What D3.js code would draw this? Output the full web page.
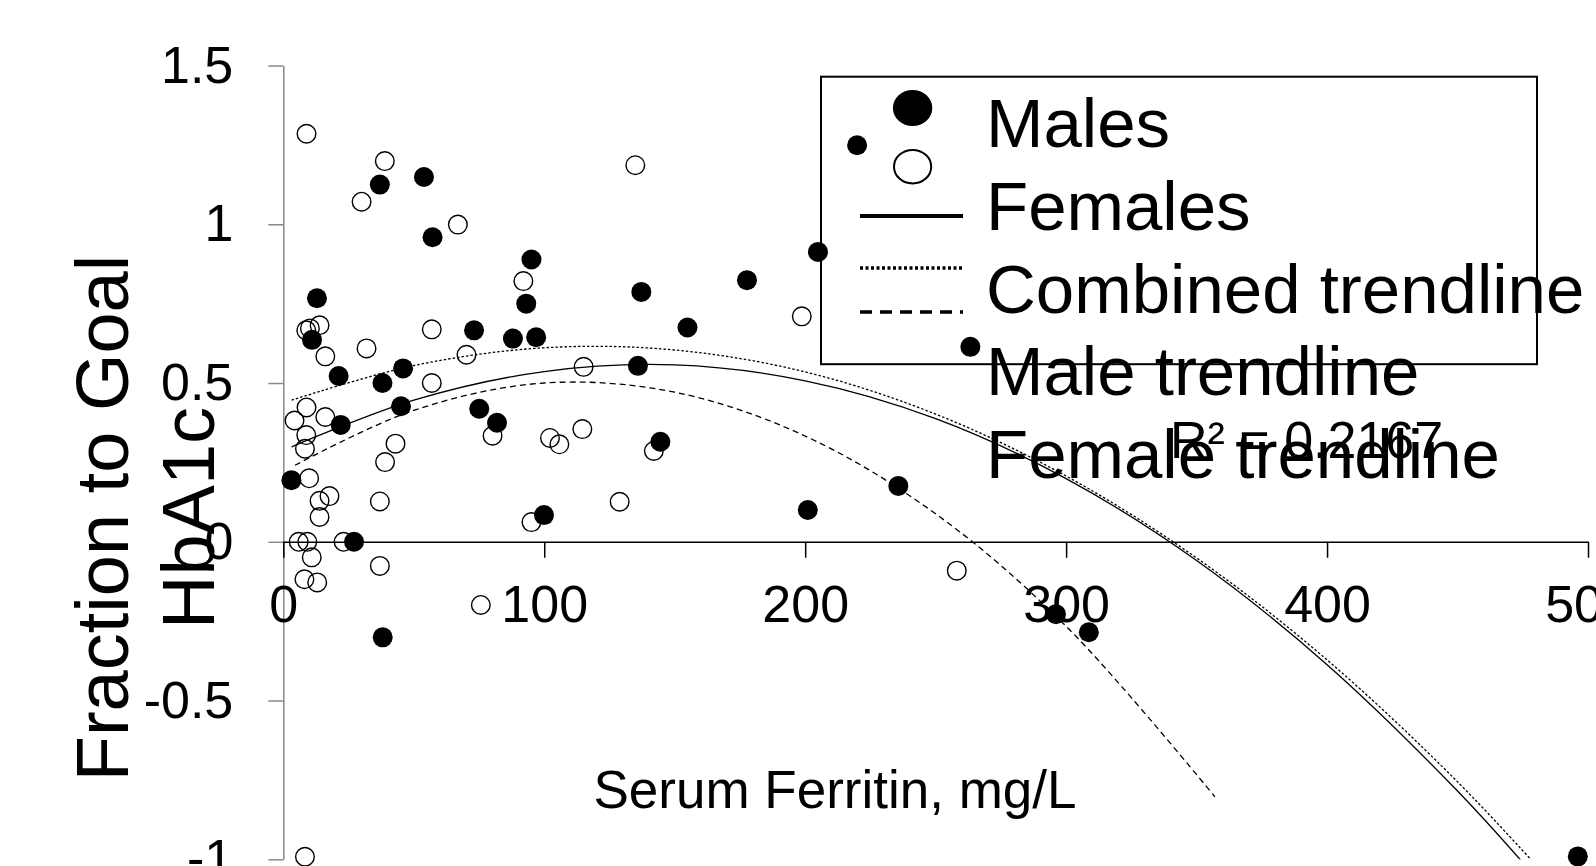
<!DOCTYPE html>
<html>
<head>
<meta charset="utf-8">
<script src="https://cdn.jsdelivr.net/npm/d3@7"></script>
<style>
  body { margin: 0; background: #fff; }
  svg { display: block; font-family: "Liberation Sans", Arial, sans-serif; }
</style>
</head>
<body>
<svg id="chart"></svg>
<script>
// Males (filled markers): serum ferritin vs fraction to goal HbA1c
const maleFerritin = [37.0, 53.9, 57.2, 95.1, 93.1, 12.9, 11.0, 73.1, 88.0, 96.9, 21.2, 38.0, 45.9, 45.1, 22.0, 75.1, 81.9,
    3.1, 99.9, 27.1, 38.1, 137.2, 135.9, 144.5, 154.9, 177.7, 204.9, 219.9, 263.3, 201.0, 235.7, 296.1, 308.7, 496.1];
const maleHba1c = [1.125, 1.149, 0.959, 0.889, 0.750, 0.767, 0.636, 0.666, 0.640, 0.644, 0.522, 0.500, 0.546, 0.427, 0.368, 0.419, 0.375,
    0.194, 0.084, 0.000, -0.301, 0.787, 0.554, 0.315, 0.675, 0.824, 0.913, 1.249, 0.614, 0.100, 0.176, -0.228, -0.285, -0.991];

// Females (open markers)
const femaleFerritin = [8.9, 38.9, 30.0, 66.9, 92.0, 56.9, 8.8, 10.2, 13.9, 16.1, 31.9, 70.2, 56.9, 115.1, 8.9, 4.3, 16.1, 8.8, 8.3,
    43.0, 39.0, 80.2, 114.6, 102.2, 105.8, 142.0, 9.9, 17.7, 13.9, 13.9, 37.0, 95.1, 5.9, 9.2, 23.1, 10.9, 37.0, 8.1, 13.0,
    75.7, 8.3, 134.9, 128.9, 198.7, 258.1];
const femaleHba1c = [1.285, 1.199, 1.071, 0.999, 0.821, 0.669, 0.666, 0.672, 0.682, 0.584, 0.609, 0.589, 0.500, 0.551, 0.423, 0.382, 0.393, 0.336, 0.293,
    0.309, 0.251, 0.334, 0.355, 0.327, 0.307, 0.286, 0.200, 0.144, 0.129, 0.078, 0.127, 0.062, 0.000, 0.000, 0.000, -0.049, -0.076, -0.118, -0.128,
    -0.199, -0.992, 1.186, 0.126, 0.710, -0.091];

// Polynomial trendlines, points
const combinedTrendX = [3.2, 50, 100, 150, 200, 250, 300, 350, 400, 450, 480];
const combinedTrendY = [0.299, 0.446, 0.536, 0.557, 0.507, 0.388, 0.199, -0.059, -0.387, -0.785, -1.057];
const maleTrendX = [3.2, 50, 100, 150, 200, 250, 300, 350, 400, 450, 490];
const maleTrendY = [0.446, 0.555, 0.611, 0.604, 0.535, 0.402, 0.207, -0.051, -0.372, -0.756, -1.108];
const femaleTrendX = [4.5, 50, 100, 150, 200, 250, 300, 357];
const femaleTrendY = [0.241, 0.414, 0.500, 0.471, 0.333, 0.088, -0.266, -0.803];

const xTicks = [0, 100, 200, 300, 400, 500];
const yTicks = [-1, -0.5, 0, 0.5, 1, 1.5];
const legendLabels = ['Males', 'Females', 'Combined trendline', 'Male trendline', 'Female trendline'];
const rSquaredLabel = 'R\u00B2 = 0.2167';
const xTitle = 'Serum Ferritin, mg/L';
const yTitleLines = ['Fraction to Goal', 'HbA1c'];

class FerritinChart {

    constructor(_config) {
        this.config = {
            parentElement: _config.parentElement,
            containerWidth: 1596,
            containerHeight: 866,
            plot: {left: 283.3, right: 1588, top: 65.5, bottom: 859.3}
        };
        this.initVis();
    }

    initVis() {
        let vis = this;
        const p = vis.config.plot;

        vis.svg = d3.select(vis.config.parentElement)
            .attr('width', vis.config.containerWidth)
            .attr('height', vis.config.containerHeight);

        vis.xScale = d3.scaleLinear()
            .domain([0, 500])
            .range([p.left, p.right]);
        vis.yScale = d3.scaleLinear()
            .domain([-1, 1.5])
            .range([p.bottom, p.top]);

        vis.xAxis = d3.axisBottom(vis.xScale)
            .tickValues(xTicks)
            .tickFormat(d => String(d))
            .tickSize(16)
            .tickSizeOuter(0)
            .tickPadding(27);
        vis.yAxis = d3.axisLeft(vis.yScale)
            .tickValues(yTicks)
            .tickFormat(d => String(d))
            .tickSize(15)
            .tickSizeOuter(0)
            .tickPadding(35);

        // clip the trendlines to the plot area
        vis.svg.append('defs').append('clipPath')
            .attr('id', 'plot-clip')
            .append('rect')
            .attr('x', p.left)
            .attr('y', p.top)
            .attr('width', p.right - p.left)
            .attr('height', p.bottom - p.top);

        vis.yAxisG = vis.svg.append('g')
            .attr('class', 'axis y-axis')
            .attr('transform', `translate(${p.left},0)`);
        vis.xAxisG = vis.svg.append('g')
            .attr('class', 'axis x-axis')
            .attr('transform', `translate(0,${vis.yScale(0)})`);

        vis.trendG = vis.svg.append('g').attr('clip-path', 'url(#plot-clip)');
        vis.chart = vis.svg.append('g');
        vis.legendG = vis.svg.append('g');
    }

    renderVis() {
        let vis = this;

        vis.yAxisG.call(vis.yAxis);
        vis.yAxisG.selectAll('path, line').attr('stroke', '#898989').attr('stroke-width', 1.5);
        vis.yAxisG.selectAll('text').attr('font-size', 52).attr('fill', '#000').attr('font-family', null);

        vis.xAxisG.call(vis.xAxis);
        vis.xAxisG.selectAll('path, line').attr('stroke', '#000').attr('stroke-width', 1.5);
        vis.xAxisG.selectAll('text').attr('font-size', 52).attr('fill', '#000').attr('font-family', null);

        // trendlines
        const line = d3.line()
            .x(d => vis.xScale(d[0]))
            .y(d => vis.yScale(d[1]))
            .curve(d3.curveCatmullRom.alpha(0.5));
        const trends = [
            {xs: combinedTrendX, ys: combinedTrendY, dash: null},
            {xs: maleTrendX, ys: maleTrendY, dash: '2.5,2'},
            {xs: femaleTrendX, ys: femaleTrendY, dash: '6,4'}
        ];
        vis.trendG.selectAll('.trend')
            .data(trends)
            .join('path')
            .attr('class', 'trend')
            .attr('d', t => line(t.xs.map((x, i) => [x, t.ys[i]])))
            .attr('fill', 'none')
            .attr('stroke', '#000')
            .attr('stroke-width', 1.3)
            .attr('stroke-dasharray', t => t.dash);

        // females first, males on top
        vis.chart.selectAll('.female')
            .data(femaleFerritin.map((x, i) => ({x: x, y: femaleHba1c[i]})))
            .join('circle')
            .attr('class', 'female')
            .attr('cx', d => vis.xScale(d.x))
            .attr('cy', d => vis.yScale(d.y))
            .attr('r', 9.3)
            .attr('fill', 'none')
            .attr('stroke', '#000')
            .attr('stroke-width', 1.4);

        vis.chart.selectAll('.male')
            .data(maleFerritin.map((x, i) => ({x: x, y: maleHba1c[i]})))
            .join('circle')
            .attr('class', 'male')
            .attr('cx', d => vis.xScale(d.x))
            .attr('cy', d => vis.yScale(d.y))
            .attr('r', 10)
            .attr('fill', '#000');

        // axis titles
        vis.svg.append('text')
            .attr('x', 835)
            .attr('y', 807.5)
            .attr('text-anchor', 'middle')
            .attr('font-size', 53)
            .text(xTitle);

        vis.svg.selectAll('.y-title')
            .data(yTitleLines)
            .join('text')
            .attr('class', 'y-title')
            .attr('transform', (d, i) => `translate(${128 + i * 86},518) rotate(-90)`)
            .attr('text-anchor', 'middle')
            .attr('font-size', 74)
            .text(d => d);

        // legend (box, symbols and labels as they sit in the original)
        vis.legendG.append('rect')
            .attr('x', 821)
            .attr('y', 76.7)
            .attr('width', 716)
            .attr('height', 287.5)
            .attr('fill', 'none')
            .attr('stroke', '#000')
            .attr('stroke-width', 2);

        vis.legendG.append('ellipse')
            .attr('cx', 912.6).attr('cy', 108)
            .attr('rx', 19.7).attr('ry', 18)
            .attr('fill', '#000');
        vis.legendG.append('ellipse')
            .attr('cx', 912.6).attr('cy', 166.7)
            .attr('rx', 18.6).attr('ry', 16.8)
            .attr('fill', 'none')
            .attr('stroke', '#000')
            .attr('stroke-width', 2);

        const legendLines = [
            {y: 216, dash: null},
            {y: 268, dash: '3,2.5'},
            {y: 312, dash: '12,8'}
        ];
        vis.legendG.selectAll('.legend-line')
            .data(legendLines)
            .join('line')
            .attr('class', 'legend-line')
            .attr('x1', 860).attr('x2', 963)
            .attr('y1', d => d.y).attr('y2', d => d.y)
            .attr('stroke', '#000')
            .attr('stroke-width', d => d.dash ? 3.5 : 4)
            .attr('stroke-dasharray', d => d.dash);

        vis.legendG.selectAll('.legend-label')
            .data(legendLabels)
            .join('text')
            .attr('class', 'legend-label')
            .attr('x', 986)
            .attr('y', (d, i) => 147 + i * 82.8)
            .attr('font-size', 69)
            .text(d => d);

        vis.svg.append('text')
            .attr('x', 1170)
            .attr('y', 458)
            .attr('font-size', 52)
            .text(rSquaredLabel);
    }
}

const chart = new FerritinChart({parentElement: '#chart'});
chart.renderVis();
</script>
</body>
</html>
